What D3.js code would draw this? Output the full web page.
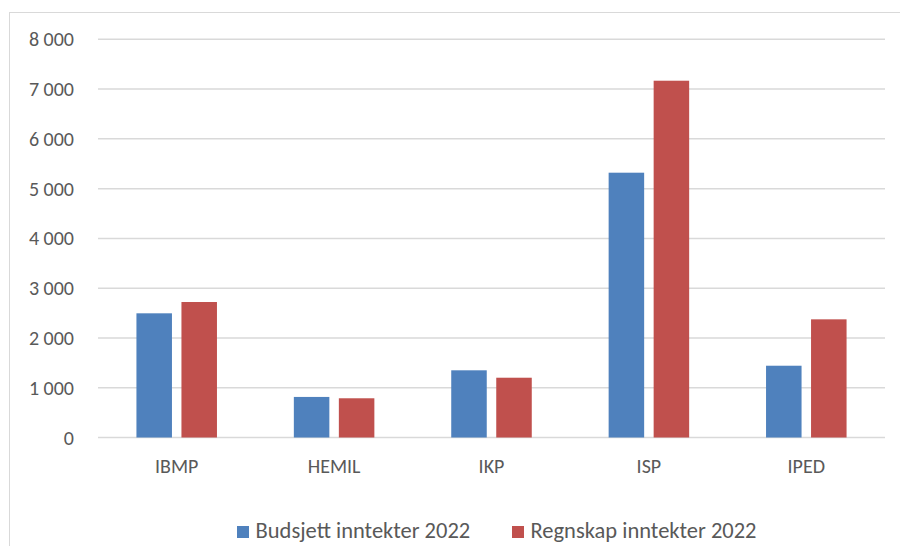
<!DOCTYPE html>
<html>
<head>
<meta charset="utf-8">
<script src="https://cdn.jsdelivr.net/npm/d3@7"></script>
<style>
  body { margin: 0; background: #fff; }
  svg text { font-family: Carlito, Lato, sans-serif; fill: #595959; }
</style>
</head>
<body>
<script>
const categories = ["IBMP", "HEMIL", "IKP", "ISP", "IPED"];
const seriesNames = ["Budsjett inntekter 2022", "Regnskap inntekter 2022"];
const budsjett = [2495, 815, 1350, 5320, 1442];
const regnskap = [2722, 788, 1201, 7168, 2374];
const yTicks = [0, 1000, 2000, 3000, 4000, 5000, 6000, 7000, 8000];
const colors = ["#4f81bd", "#c0504d"];

const width = 900, height = 546;
const plot = { left: 98, right: 885, top: 39.3, bottom: 437.5 };

const svg = d3.select("body").append("svg")
    .attr("width", width)
    .attr("height", height);

// chart frame
svg.append("rect")
    .attr("x", 9.5).attr("y", 12.5)
    .attr("width", 900).attr("height", 560)
    .attr("fill", "none")
    .attr("stroke", "#d9d9d9")
    .attr("stroke-width", 1);

const x0 = d3.scaleBand()
    .domain(categories)
    .range([plot.left, plot.right]);

const x1 = d3.scaleBand()
    .domain(seriesNames)
    .range([0, x0.bandwidth()])
    .paddingInner(0.211)
    .paddingOuter(0.854);

const y = d3.scaleLinear()
    .domain([0, 8000])
    .range([plot.bottom, plot.top]);

const fmt = d => d3.format(",")(d).replace(/,/g, " ");

// gridlines
svg.append("g")
    .selectAll("line")
    .data(yTicks)
    .enter()
    .append("line")
    .attr("x1", plot.left)
    .attr("x2", plot.right)
    .attr("y1", d => y(d))
    .attr("y2", d => y(d))
    .attr("stroke", "#d9d9d9")
    .attr("stroke-width", 1.5);

// y labels
svg.append("g")
    .selectAll("text")
    .data(yTicks)
    .enter()
    .append("text")
    .attr("x", 74)
    .attr("y", d => y(d))
    .attr("dy", "0.35em")
    .attr("text-anchor", "end")
    .attr("font-size", 20)
    .text(fmt);

// bars
const rows = categories.map((c, i) => ({ cat: c, values: [budsjett[i], regnskap[i]] }));
const groups = svg.append("g")
    .selectAll("g")
    .data(rows)
    .enter()
    .append("g")
    .attr("transform", d => `translate(${x0(d.cat)},0)`);

groups.selectAll("rect")
    .data(d => d.values.map((v, j) => ({ name: seriesNames[j], v, j })))
    .enter()
    .append("rect")
    .attr("x", d => x1(d.name))
    .attr("y", d => y(d.v))
    .attr("width", x1.bandwidth())
    .attr("height", d => y(0) - y(d.v))
    .attr("fill", d => colors[d.j]);

// category labels
svg.append("g")
    .selectAll("text")
    .data(categories)
    .enter()
    .append("text")
    .attr("x", d => x0(d) + x0.bandwidth() / 2)
    .attr("y", 473)
    .attr("text-anchor", "middle")
    .attr("font-size", 20)
    .text(d => d);

// legend
const legendX = [237, 512];
const legend = svg.append("g")
    .selectAll("g")
    .data(seriesNames)
    .enter()
    .append("g")
    .attr("transform", (d, i) => `translate(${legendX[i]},526)`);
legend.append("rect")
    .attr("width", 12).attr("height", 12)
    .attr("fill", (d, i) => colors[i]);
legend.append("text")
    .attr("x", 18.5)
    .attr("y", 12)
    .attr("font-size", 22.5)
    .text(d => d);
</script>
</body>
</html>
